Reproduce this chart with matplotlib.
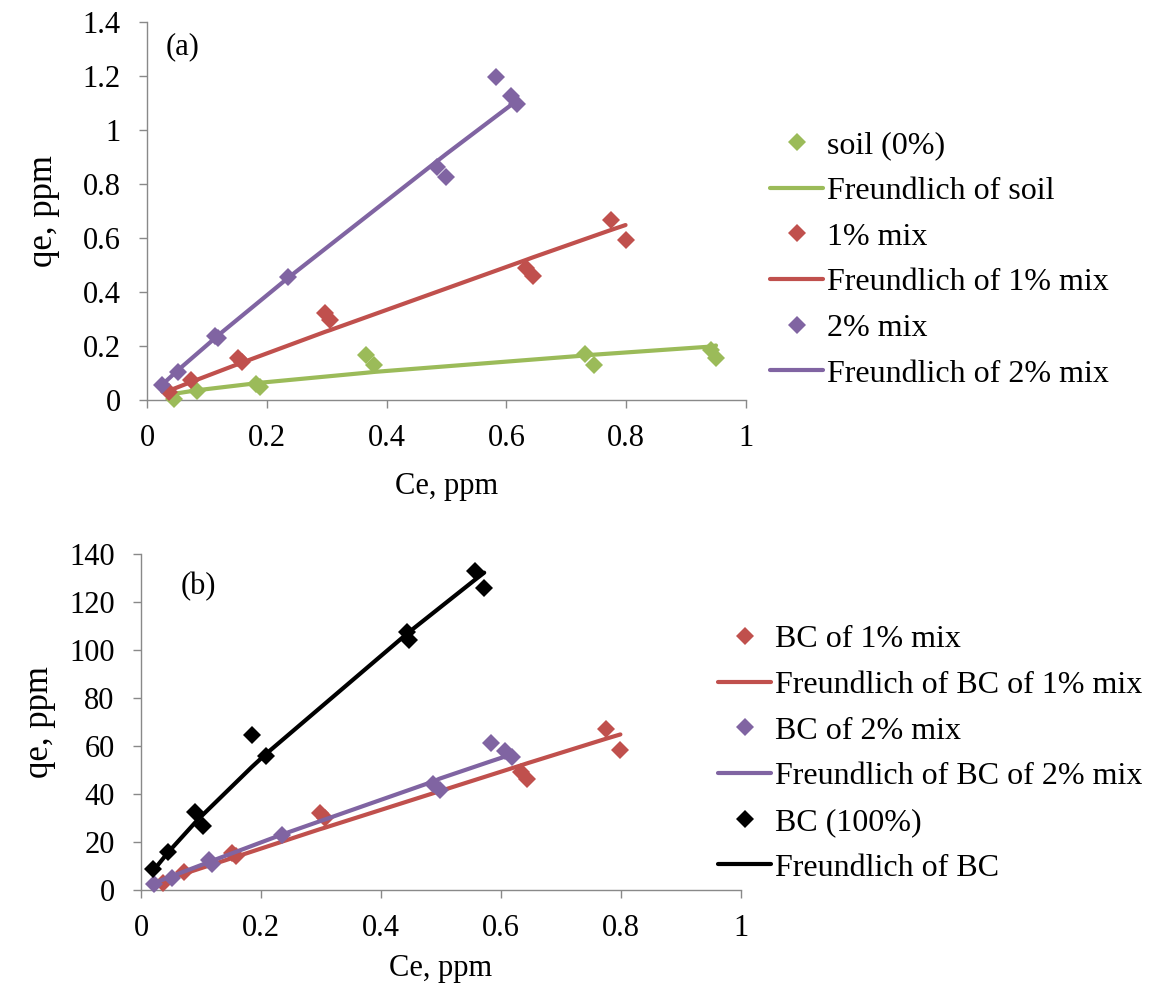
import matplotlib
matplotlib.use("Agg")
import matplotlib.pyplot as plt

plt.rcParams['font.family'] = ['Liberation Serif', 'DejaVu Serif']

# ---------------- Panel (a) data ----------------
soil_x = [0.045, 0.083, 0.182, 0.189, 0.366, 0.379, 0.732, 0.747, 0.942, 0.950]
soil_y = [0.005, 0.033, 0.060, 0.050, 0.168, 0.130, 0.172, 0.128, 0.185, 0.155]
soil_fit = [0.023, 0.036, 0.062, 0.064, 0.101, 0.104, 0.165, 0.168, 0.198, 0.202]

mix1_x = [0.036, 0.074, 0.152, 0.158, 0.298, 0.306, 0.633, 0.644, 0.775, 0.799]
mix1_y = [0.030, 0.075, 0.155, 0.142, 0.322, 0.298, 0.488, 0.458, 0.665, 0.593]
mix1_fit = [0.034, 0.067, 0.133, 0.138, 0.253, 0.259, 0.519, 0.528, 0.630, 0.648]

mix2_x = [0.025, 0.052, 0.113, 0.118, 0.236, 0.484, 0.499, 0.583, 0.607, 0.618]
mix2_y = [0.055, 0.105, 0.238, 0.228, 0.457, 0.862, 0.827, 1.198, 1.125, 1.095]
mix2_fit = [0.056, 0.111, 0.228, 0.238, 0.453, 0.884, 0.910, 1.051, 1.091, 1.109]

# ---------------- Panel (b) data ----------------
bc1_x = [0.036, 0.071, 0.152, 0.158, 0.298, 0.306, 0.633, 0.644, 0.775, 0.799]
bc1_y = [3.0, 7.4, 15.5, 14.2, 32.2, 29.8, 49.0, 46.2, 67.0, 58.5]
bc1_fit = [3.4, 6.7, 13.3, 13.8, 25.3, 25.9, 51.9, 52.8, 63.0, 64.8]

bc2_x = [0.022, 0.051, 0.113, 0.118, 0.235, 0.486, 0.498, 0.583, 0.607, 0.618]
bc2_y = [2.3, 4.9, 12.5, 11.0, 22.9, 44.2, 41.8, 61.2, 58.0, 55.6]
bc2_fit = [2.9, 5.7, 11.6, 12.1, 23.1, 45.1, 46.4, 53.6, 55.6, 56.6]

bc_x = [0.020, 0.045, 0.090, 0.103, 0.185, 0.208, 0.444, 0.446, 0.557, 0.572]
bc_y = [8.8, 16.0, 32.5, 26.5, 64.4, 56.0, 107.5, 104.0, 133.0, 126.0]
bc_fit = [7.9, 15.6, 28.0, 31.3, 51.3, 56.6, 106.9, 107.3, 129.3, 132.2]

xticks = [0, 0.2, 0.4, 0.6, 0.8, 1]
xtick_labels = ['0', '0.2', '0.4', '0.6', '0.8', '1']
yticks_a = [0, 0.2, 0.4, 0.6, 0.8, 1.0, 1.2, 1.4]
ytick_labels_a = ['0', '0.2', '0.4', '0.6', '0.8', '1', '1.2', '1.4']
yticks_b = [0, 20, 40, 60, 80, 100, 120, 140]
ytick_labels_b = ['0', '20', '40', '60', '80', '100', '120', '140']

GREEN = '#9BBB59'
RED = '#C0504D'
PURPLE = '#8064A2'
BLACK = '#000000'
AXC = '#898989'

MS = 9
LW = 3
TICK_FS = 22
XLAB_FS = 22
YLAB_FS = 25
LEG_FS = 23

fig = plt.figure(figsize=(11.49, 9.86), dpi=100)
ax_a = fig.add_axes([0.1279, 0.5943, 0.5213, 0.3834])
ax_b = fig.add_axes([0.1227, 0.0974, 0.5222, 0.3408])


def style(ax, yt, ytl, ymax, xlp, ylp):
    ax.set_xlim(0, 1)
    ax.set_ylim(0, ymax)
    ax.set_xticks(xticks)
    ax.set_xticklabels(xtick_labels)
    ax.set_yticks(yt)
    ax.set_yticklabels(ytl)
    for s in ['top', 'right']:
        ax.spines[s].set_visible(False)
    for s in ['left', 'bottom']:
        ax.spines[s].set_color(AXC)
        ax.spines[s].set_linewidth(1.0)
    ax.tick_params(axis='both', direction='out', length=6, width=1.0,
                   color=AXC, labelsize=TICK_FS, labelcolor='black')
    ax.tick_params(axis='y', pad=13)
    ax.tick_params(axis='x', pad=11)
    ax.set_xlabel('Ce, ppm', fontsize=XLAB_FS, labelpad=xlp)
    ax.set_ylabel('qe, ppm', fontsize=YLAB_FS, labelpad=ylp)


def pts(ax, x, y, c, label, z):
    ax.plot(x, y, linestyle='none', marker='D', ms=MS, mew=0, color=c,
            label=label, zorder=z, clip_on=False)


def fit(ax, x, y, c, label, z):
    ax.plot(x, y, '-', lw=LW, color=c, label=label, zorder=z,
            solid_capstyle='round', clip_on=False)


# Panel (a)
pts(ax_a, soil_x, soil_y, GREEN, 'soil (0%)', 3)
fit(ax_a, soil_x, soil_fit, GREEN, 'Freundlich of soil', 4)
pts(ax_a, mix1_x, mix1_y, RED, '1% mix', 5)
fit(ax_a, mix1_x, mix1_fit, RED, 'Freundlich of 1% mix', 6)
pts(ax_a, mix2_x, mix2_y, PURPLE, '2% mix', 7)
fit(ax_a, mix2_x, mix2_fit, PURPLE, 'Freundlich of 2% mix', 8)
style(ax_a, yticks_a, ytick_labels_a, 1.4, 14, 16)
ax_a.text(0.06, 1.4 * 0.935, '(a)', fontsize=TICK_FS, ha='center', va='center')

# Panel (b)
pts(ax_b, bc1_x, bc1_y, RED, 'BC of 1% mix', 3)
fit(ax_b, bc1_x, bc1_fit, RED, 'Freundlich of BC of 1% mix', 4)
pts(ax_b, bc2_x, bc2_y, PURPLE, 'BC of 2% mix', 5)
fit(ax_b, bc2_x, bc2_fit, PURPLE, 'Freundlich of BC of 2% mix', 6)
pts(ax_b, bc_x, bc_y, BLACK, 'BC (100%)', 7)
fit(ax_b, bc_x, bc_fit, BLACK, 'Freundlich of BC', 8)
style(ax_b, yticks_b, ytick_labels_b, 140, 8, 9)
ax_b.text(0.095, 126.5, '(b)', fontsize=TICK_FS, ha='center', va='center')

leg_kw = dict(frameon=False, fontsize=LEG_FS, numpoints=1, borderpad=0,
              borderaxespad=0, handlelength=1.66, handletextpad=0.12,
              labelspacing=0.51, loc='upper left')
h, l = ax_a.get_legend_handles_labels()
fig.legend(h, l, bbox_to_anchor=(770 / 1149, 1 - 131 / 986), **leg_kw)
h, l = ax_b.get_legend_handles_labels()
fig.legend(h, l, bbox_to_anchor=(718 / 1149, 1 - 625 / 986), **leg_kw)

fig.savefig('out.png', dpi=100)
